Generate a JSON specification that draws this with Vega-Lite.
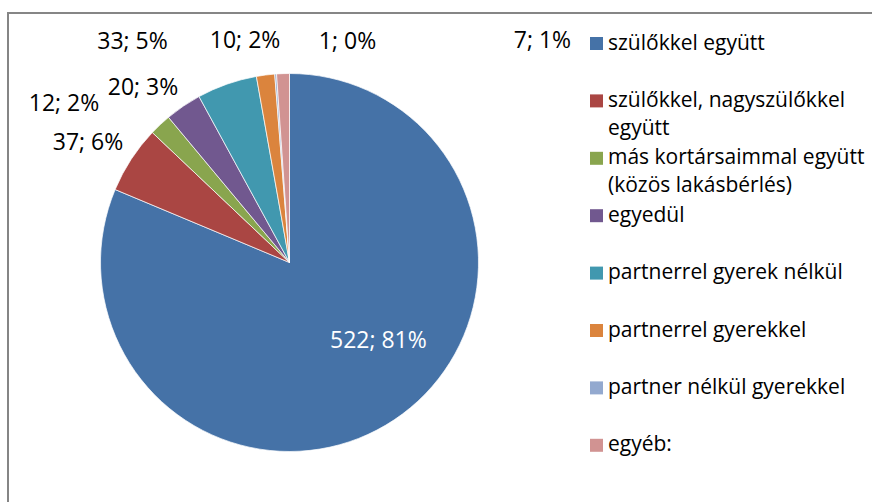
{
  "$schema": "https://vega.github.io/schema/vega-lite/v6.json",
  "width": 864,
  "height": 489,
  "autosize": {"type": "none"},
  "padding": {"left": 8, "top": 13, "right": 0, "bottom": 0},
  "background": "white",
  "config": {
    "view": {"stroke": null},
    "font": "Open Sans",
    "style": {"guide-label": {"lineHeight": 28}}
  },
  "data": {
    "values": [
      {"i": 1, "cat": "szülőkkel együtt", "value": 522, "label": "522; 81%"},
      {"i": 2, "cat": "szülőkkel, nagyszülőkkel együtt", "value": 37, "label": "37; 6%"},
      {"i": 3, "cat": "más kortársaimmal együtt (közös lakásbérlés)", "value": 12, "label": "12; 2%"},
      {"i": 4, "cat": "egyedül", "value": 20, "label": "20; 3%"},
      {"i": 5, "cat": "partnerrel gyerek nélkül", "value": 33, "label": "33; 5%"},
      {"i": 6, "cat": "partnerrel gyerekkel", "value": 10, "label": "10; 2%"},
      {"i": 7, "cat": "partner nélkül gyerekkel", "value": 1, "label": "1; 0%"},
      {"i": 8, "cat": "egyéb:", "value": 7, "label": "7; 1%"}
    ]
  },
  "layer": [
    {
      "mark": {"type": "rect", "fill": null, "stroke": "#868686", "strokeWidth": 1.75, "strokeDash": [864, 1353, 489]},
      "encoding": {}
    },
    {
      "mark": {"type": "arc", "outerRadius": 189, "xOffset": -150.5, "yOffset": 5, "stroke": "white", "strokeWidth": 0.7},
      "encoding": {
        "theta": {"field": "value", "type": "quantitative", "stack": true},
        "order": {"field": "i", "type": "quantitative"},
        "color": {
          "field": "cat",
          "type": "nominal",
          "scale": {
            "domain": ["szülőkkel együtt", "szülőkkel, nagyszülőkkel együtt", "más kortársaimmal együtt (közös lakásbérlés)", "egyedül", "partnerrel gyerek nélkül", "partnerrel gyerekkel", "partner nélkül gyerekkel", "egyéb:"],
            "range": ["#4572A7", "#AA4643", "#89A54E", "#71588F", "#4198AF", "#DB843D", "#93A9CF", "#D19392"]
          },
          "legend": {
            "orient": "none",
            "legendX": 578,
            "legendY": 20,
            "title": null,
            "symbolType": "square",
            "symbolSize": 169,
            "symbolStrokeWidth": 0,
            "labelFont": "Open Sans",
            "labelFontSize": 21,
            "labelColor": "black",
            "labelLimit": 320,
            "labelOffset": 1,
            "rowPadding": 7.4,
            "gridAlign": "all",
            "labelBaseline": "middle",
            "labelExpr": "datum.label === 'szülőkkel, nagyszülőkkel együtt' ? ['szülőkkel, nagyszülőkkel', 'együtt'] : datum.label === 'más kortársaimmal együtt (közös lakásbérlés)' ? ['más kortársaimmal együtt', '(közös lakásbérlés)'] : datum.label",
            "encode": {"labels": {"update": {"lineHeight": {"value": 28}}}}
          }
        }
      }
    },
    {
      "mark": {
        "type": "text",
        "radius": 229,
        "xOffset": -150.5,
        "yOffset": 5,
        "font": "Open Sans",
        "fontSize": 23,
        "align": "center",
        "baseline": "middle",
        "dx": {"expr": "[-38, -9.6, -68.8, -17.8, -81.1, -15.4, 74.8, 260.8][datum.i - 1]"},
        "dy": {"expr": "[-112.6, 6, 8, 14.9, -4.9, 6.1, 7.4, 7.4][datum.i - 1]"}
      },
      "encoding": {
        "theta": {"field": "value", "type": "quantitative", "stack": true},
        "order": {"field": "i", "type": "quantitative"},
        "text": {"field": "label", "type": "nominal"},
        "color": {"condition": {"test": "datum.i === 1", "value": "white"}, "value": "black"}
      }
    }
  ]
}
